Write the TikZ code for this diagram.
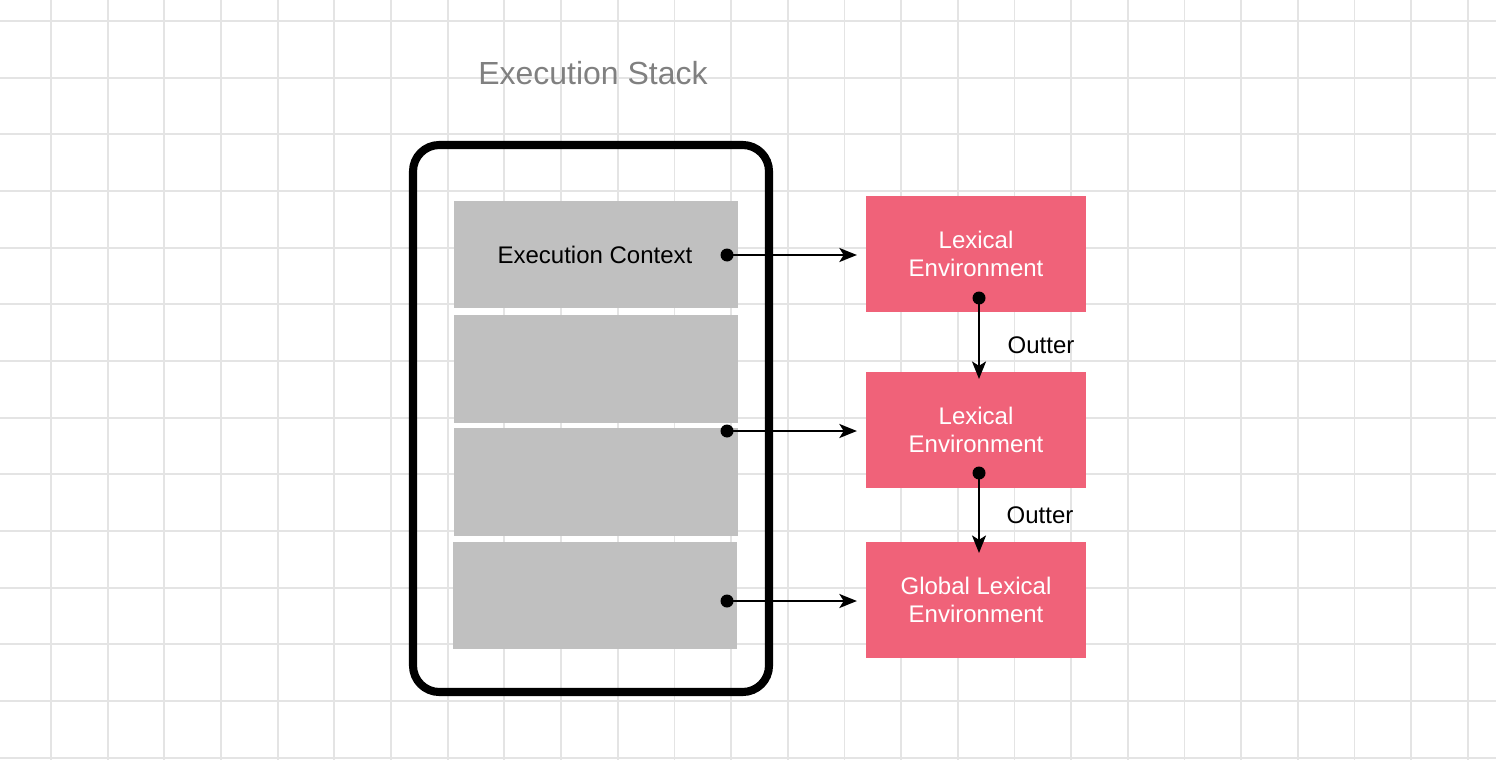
\documentclass[tikz,border=0pt]{standalone}
\usepackage{fontspec}
\setmainfont{Liberation Sans}
\usetikzlibrary{arrows.meta}
\definecolor{lexred}{RGB}{240,98,121}
\definecolor{ctxgray}{RGB}{192,192,192}
\definecolor{gridgray}{RGB}{228,228,228}
\tikzset{
  gridline/.style={draw=gridgray, line width=1pt},
  ctx/.style={fill=ctxgray, minimum width=5.68cm, minimum height=2.16cm, inner sep=0pt},
  lex/.style={fill=lexred, text=white, minimum width=4.4cm, minimum height=2.32cm, align=center, inner sep=0pt,
    font=\fontsize{13.66}{16}\selectfont},
  lbl/.style={font=\fontsize{13.66}{16}\selectfont},
  arr/.style={line width=1.1pt, -{Stealth[length=10pt, width=8pt, inset=2.5pt]}},
  dot/.style={fill=black}
}
\begin{document}
\begin{tikzpicture}[x=0.02cm, y=-0.02cm]
\useasboundingbox (0,0) rectangle (1496,760);
% grid
\foreach \i in {0,...,25} \draw[gridline] ({51+\i*56.67},0) -- ++(0,760);
\foreach \j in {0,...,13} \draw[gridline] (0,{21+\j*56.67}) -- ++(1496,0);
\node[lbl, font=\fontsize{18.2}{20}\selectfont, text={rgb,255:red,128;green,128;blue,128}] (title) at (593,73) {Execution Stack};
\draw[line width=4.6pt, rounded corners=15] (413,145) rectangle (769,692);
\node[ctx] (c1) at (596,254.5) {};
\node[ctx] (c2) at (596,369) {};
\node[ctx] (c3) at (596,482) {};
\node[ctx] (c4) at (595,595.5) {};
\node[lbl] (ec) at (595,255) {Execution Context};
\node[lex] (l1) at (976,254) {Lexical\\Environment};
\node[lex] (l2) at (976,430) {Lexical\\Environment};
\node[lex] (l3) at (976,600) {Global Lexical\\Environment};
\coordinate (d1) at (727,255);
\coordinate (d2) at (727,431);
\coordinate (d3) at (727,601);
\coordinate (o1) at (979,298);
\coordinate (o2) at (979,473);
\coordinate (e2) at (979,379);
\coordinate (e3) at (979,553);
\draw[arr, shorten >=5pt] (d1) -- (l1.west |- d1);
\draw[arr, shorten >=5pt] (d2) -- (l2.west |- d2);
\draw[arr, shorten >=5pt] (d3) -- (l3.west |- d3);
\draw[arr] (o1) -- (e2);
\draw[arr] (o2) -- (e3);
\foreach \p in {d1,d2,d3,o1,o2} \fill[dot] (\p) circle (6.5);
\node[lbl] (out1) at (1041,345) {Outter};
\node[lbl] (out2) at (1040,515) {Outter};
\end{tikzpicture}
\end{document}
